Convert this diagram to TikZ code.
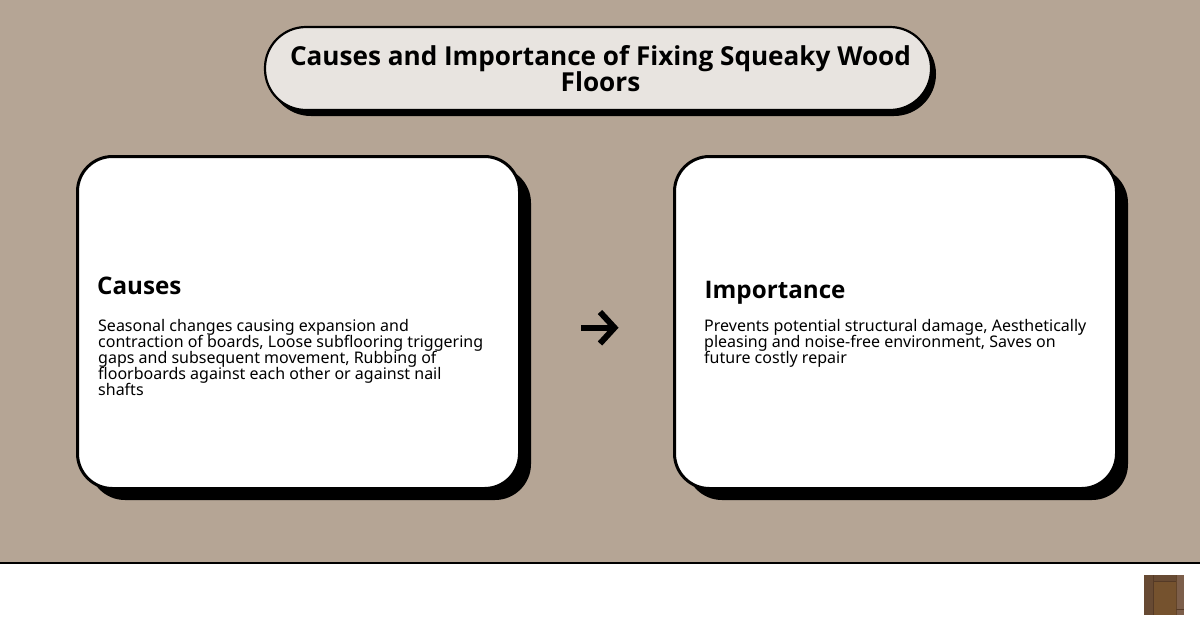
\documentclass[tikz,border=0pt]{standalone}
\usepackage{fontspec}
\setmainfont{Noto Sans}
\newfontfamily\headfont{Open Sans}
\setlength{\lineskiplimit}{-30pt}
\definecolor{bgtan}{HTML}{B5A595}
\definecolor{pillfill}{HTML}{E8E4E0}
\definecolor{woodA}{HTML}{674A33}
\definecolor{woodB}{HTML}{75522E}
\definecolor{woodC}{HTML}{553A26}
\definecolor{woodD}{HTML}{7C5E4A}
\tikzset{
  x=1pt,y=-1pt,
  pill/.style={draw=black,line width=2.2pt,fill=pillfill,rounded corners=41pt},
  pillshadow/.style={fill=black,rounded corners=41.9pt},
  card/.style={draw=black,line width=3pt,fill=white,rounded corners=35pt},
  cardshadow/.style={fill=black,rounded corners=36pt},
  titletext/.style={font=\headfont\fontsize{26.13}{26}\selectfont\bfseries,align=center,inner sep=0pt},
  headtext/.style={font=\headfont\fontsize{24.2}{24}\selectfont\bfseries,anchor=base west,inner sep=0pt},
  bodytext/.style={font=\fontsize{16}{16}\selectfont,anchor=north west,align=left,inner sep=0pt},
}
\begin{document}
\begin{tikzpicture}
\useasboundingbox (0,0) rectangle (1200,630);
\fill[bgtan] (0,0) rectangle (1200,562);
\fill[white] (0,562) rectangle (1200,630);
\draw[black,line width=2pt] (0,562.5) -- (1200,562.5);
% title
\fill[pillshadow] (269,32) rectangle (936,116);
\draw[pill] (265,27) rectangle (931,110);
\node[titletext] (title) at (600.5,68.5) {Causes and Importance of Fixing Squeaky Wood\\Floors};
% cards
\fill[cardshadow] (89,167) rectangle (531,500);
\draw[card] (77.5,156.5) rectangle (519.5,488.5);
\node[headtext] (causeshead) at (97,294) {Causes};
\node[bodytext] (causesbody) at (98,319) {Seasonal changes causing expansion and\\contraction of boards, Loose subflooring triggering\\gaps and subsequent movement, Rubbing of\\floorboards against each other or against nail\\shafts};
\fill[cardshadow] (686,167) rectangle (1128,500);
\draw[card] (674.5,156.5) rectangle (1116.5,488.5);
\node[headtext] (importancehead) at (704.5,298) {Importance};
\node[bodytext] (importancebody) at (704,319) {Prevents potential structural damage, Aesthetically\\pleasing and noise-free environment, Saves on\\future costly repair};
% arrow
\coordinate (arrowtail) at (581,327.7);
\coordinate (arrowtip) at (614.5,327.7);
\draw[black,line width=6pt] (arrowtail) -- (arrowtip);
\draw[black,line width=6pt,miter limit=10] (600,312) -- (arrowtip) -- (600,343.5);
% wood thumbnail
\fill[woodB] (1144,575) rectangle (1184,615);
\fill[woodA] (1144,575) rectangle (1153.5,615);
\fill[woodD] (1176,575) rectangle (1184,615);
\fill[woodA] (1153.5,575) rectangle (1176,581);
\fill[woodC] (1153.5,580.5) rectangle (1176,581.5);
\fill[woodC] (1153,575) rectangle (1154,615);
\fill[woodC!60!woodB] (1175.5,575) rectangle (1176.5,615);
\fill[woodC] (1176,609) rectangle (1184,610);
\end{tikzpicture}
\end{document}
